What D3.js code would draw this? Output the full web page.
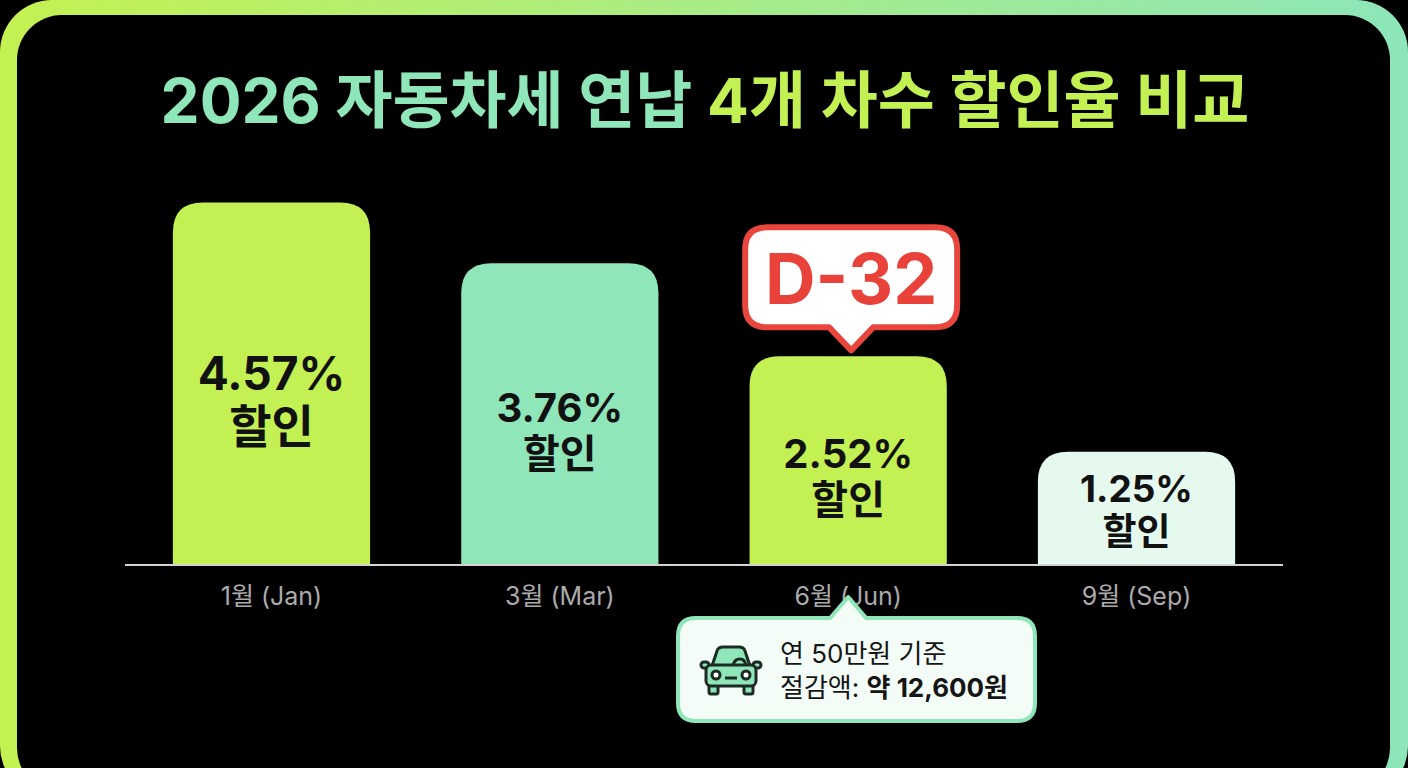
<!DOCTYPE html>
<html lang="ko">
<head>
<meta charset="utf-8">
<script src="https://cdn.jsdelivr.net/npm/d3@7"></script>
<style>
  html, body { margin: 0; padding: 0; background: #000; }
  svg { display: block; }
  text { font-family: Inter, "Noto Sans CJK KR", "Noto Sans", sans-serif; }
</style>
</head>
<body>
<div class="visHolder"></div>
<script>
// chart data
const months = ['1월 (Jan)', '3월 (Mar)', '6월 (Jun)', '9월 (Sep)'];
const rates = [4.57, 3.76, 2.52, 1.25];
const rateSuffix = '할인';
const titleParts = ['2026 자동차세 연납 ', '4개 차수 할인율 비교'];
const ddayLabel = 'D-32';
const ddayMonth = '6월 (Jun)';
const savingLine1 = '연 50만원 기준';
const savingLine2 = ['절감액: ', '약 12,600원'];

const w = 1408, h = 768;
const lime = '#c3f153', mint = '#8fe6b9';

const dataset = months.map((m, i) => ({month: m, rate: rates[i]}));

const svg = d3.select('.visHolder')
  .append('svg')
  .attr('width', w)
  .attr('height', h)
  .attr('viewBox', `0 0 ${w} ${h}`);

const defs = svg.append('defs');
const frameGrad = defs.append('linearGradient').attr('id', 'frameGrad')
  .attr('x1', '0%').attr('x2', '100%').attr('y1', '0%').attr('y2', '0%');
frameGrad.append('stop').attr('offset', '0%').attr('stop-color', '#c4f152');
frameGrad.append('stop').attr('offset', '100%').attr('stop-color', '#8de6b9');

// frame + black panel
svg.append('rect').attr('x', 0).attr('y', 0).attr('width', w).attr('height', h + 30)
  .attr('rx', 52).attr('fill', 'url(#frameGrad)');
svg.append('rect').attr('x', 17).attr('y', 15).attr('width', w - 35).attr('height', h + 10)
  .attr('rx', 45).attr('fill', '#000');

// title
const title = svg.append('text')
  .attr('x', 705).attr('y', 123)
  .attr('text-anchor', 'middle')
  .attr('font-size', 62).attr('font-weight', 700);
title.append('tspan').attr('fill', mint).text(titleParts[0]);
title.append('tspan').attr('fill', lime).text(titleParts[1]);

// scales
const baseY = 565;
const xScale = d3.scaleBand()
  .domain(months)
  .range([125, 1283])
  .paddingInner(0.316)
  .paddingOuter(0.166);
const yScale = d3.scaleLinear()
  .domain([-0.26, 4.75])
  .range([baseY, 189]);
const color = d3.scaleOrdinal(months, [lime, mint, lime, '#e6f9ee']);
const fontSize = d3.scaleLinear().domain([1.25, 2.5, 3.8, 4.57]).range([37, 40, 40, 46]).clamp(true);

const topRounded = (x, y, bw, bh, r) =>
  `M${x},${y + bh} L${x},${y + r} Q${x},${y} ${x + r},${y} L${x + bw - r},${y} Q${x + bw},${y} ${x + bw},${y + r} L${x + bw},${y + bh} Z`;

// bars
const bars = svg.append('g').attr('class', 'bars');
bars.selectAll('path')
  .data(dataset)
  .enter()
  .append('path')
  .attr('d', d => topRounded(xScale(d.month), yScale(d.rate), xScale.bandwidth(), baseY - yScale(d.rate), 30))
  .attr('fill', d => color(d.month));

// labels inside bars
const labels = svg.append('g').selectAll('text')
  .data(dataset)
  .enter()
  .append('text')
  .attr('text-anchor', 'middle')
  .attr('fill', '#111')
  .attr('font-weight', 700)
  .attr('font-size', d => fontSize(d.rate));
labels.each(function(d) {
  const fs = fontSize(d.rate);
  const cx = xScale(d.month) + xScale.bandwidth() / 2;
  const center = Math.min((yScale(d.rate) + baseY) / 2 + 17, baseY - 54);
  const y1 = center - 0.235 * fs;
  const t = d3.select(this);
  t.append('tspan').attr('x', cx).attr('y', y1).text(d.rate.toFixed(2) + '%');
  t.append('tspan').attr('x', cx).attr('y', y1 + 1.15 * fs).text(rateSuffix);
});

// baseline + month labels
svg.append('line')
  .attr('x1', 125).attr('x2', 1283)
  .attr('y1', baseY).attr('y2', baseY)
  .attr('stroke', '#d2d2d2').attr('stroke-width', 2);

const xAxis = d3.axisBottom(xScale).tickSize(0).tickPadding(0);
const axisG = svg.append('g')
  .attr('transform', `translate(0, ${baseY})`)
  .call(xAxis);
axisG.select('.domain').remove();
axisG.selectAll('text')
  .attr('dy', null)
  .attr('y', 40)
  .attr('font-size', 25)
  .attr('font-family', 'Inter, "Noto Sans CJK KR", sans-serif')
  .attr('fill', '#ababab');

// D-day callout above June bar
const jx = xScale(ddayMonth) + xScale.bandwidth() / 2 + 3;
const tipY = yScale(rates[months.indexOf(ddayMonth)]) - 6;
const bw = 212, boxBottom = tipY - 23, boxTop = boxBottom - 100, r = 22;
const calloutPath = (x0, y0, x1, y1, rr, px, ph) =>
  `M${x0 + rr},${y0} L${x1 - rr},${y0} Q${x1},${y0} ${x1},${y0 + rr} L${x1},${y1 - rr} Q${x1},${y1} ${x1 - rr},${y1}` +
  ` L${px + 22},${y1} L${px},${y1 + ph} L${px - 22},${y1}` +
  ` L${x0 + rr},${y1} Q${x0},${y1} ${x0},${y1 - rr} L${x0},${y0 + rr} Q${x0},${y0} ${x0 + rr},${y0} Z`;
svg.append('path')
  .attr('d', calloutPath(jx - bw / 2, boxTop, jx + bw / 2, boxBottom, r, jx, 23))
  .attr('fill', '#fff')
  .attr('stroke', '#e8453c')
  .attr('stroke-width', 6)
  .attr('stroke-linejoin', 'round');
svg.append('text')
  .attr('x', jx).attr('y', boxTop + 77)
  .attr('text-anchor', 'middle')
  .attr('font-size', 70).attr('font-weight', 700)
  .attr('fill', '#e8423a')
  .text(ddayLabel);

// savings callout below June label
const sTop = 618, sBottom = 721, sx0 = 678, sx1 = 1035, sr = 18;
const stip = xScale(ddayMonth) + xScale.bandwidth() / 2;
svg.append('path')
  .attr('d', `M${sx0 + sr},${sTop} L${stip - 18},${sTop} L${stip},${sTop - 21} L${stip + 18},${sTop} L${sx1 - sr},${sTop}` +
    ` Q${sx1},${sTop} ${sx1},${sTop + sr} L${sx1},${sBottom - sr} Q${sx1},${sBottom} ${sx1 - sr},${sBottom}` +
    ` L${sx0 + sr},${sBottom} Q${sx0},${sBottom} ${sx0},${sBottom - sr} L${sx0},${sTop + sr} Q${sx0},${sTop} ${sx0 + sr},${sTop} Z`)
  .attr('fill', '#f3fcf6')
  .attr('stroke', mint)
  .attr('stroke-width', 4)
  .attr('stroke-linejoin', 'round');

// car icon
const car = svg.append('g')
  .attr('transform', 'translate(700, 645)')
  .attr('stroke', '#1d2a24').attr('stroke-width', 3).attr('stroke-linejoin', 'round');
car.append('rect').attr('x', 9).attr('y', 38).attr('width', 9).attr('height', 11).attr('rx', 2).attr('fill', mint);
car.append('rect').attr('x', 44).attr('y', 38).attr('width', 9).attr('height', 11).attr('rx', 2).attr('fill', mint);
car.append('rect').attr('x', 1).attr('y', 17).attr('width', 8).attr('height', 6).attr('rx', 3).attr('fill', mint);
car.append('rect').attr('x', 53).attr('y', 17).attr('width', 8).attr('height', 6).attr('rx', 3).attr('fill', mint);
car.append('path').attr('d', 'M12,21 L17,6 Q18,2 23,2 L39,2 Q44,2 45,6 L50,21 Z').attr('fill', mint);
car.append('path').attr('d', 'M33,21 Q34,14 40,14 Q45,14 46,21').attr('fill', 'none');
car.append('rect').attr('x', 6).attr('y', 20).attr('width', 50).attr('height', 21).attr('rx', 5).attr('fill', mint);
car.append('circle').attr('cx', 16).attr('cy', 30).attr('r', 4).attr('fill', '#fff');
car.append('circle').attr('cx', 46).attr('cy', 30).attr('r', 4).attr('fill', '#fff');
car.append('line').attr('x1', 25).attr('x2', 37).attr('y1', 33).attr('y2', 33);

svg.append('text')
  .attr('x', 780).attr('y', 663)
  .attr('font-size', 26).attr('fill', '#151515')
  .text(savingLine1);
const l2 = svg.append('text')
  .attr('x', 780).attr('y', 697)
  .attr('font-size', 26).attr('fill', '#151515');
l2.append('tspan').text(savingLine2[0]);
l2.append('tspan').attr('font-weight', 700).text(savingLine2[1]);
</script>
</body>
</html>
